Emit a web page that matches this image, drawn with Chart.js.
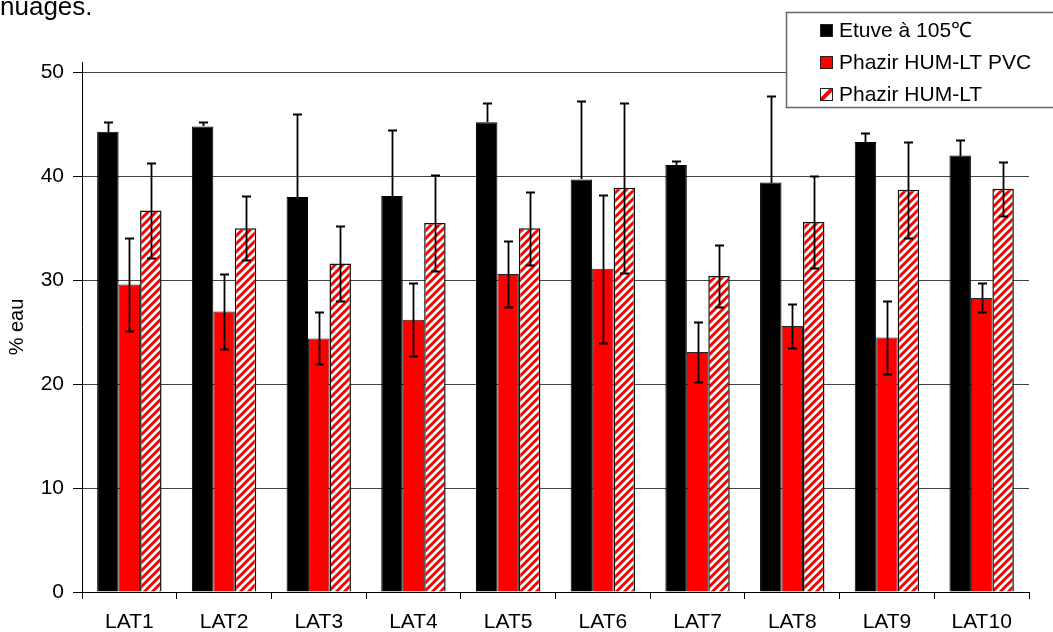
<!DOCTYPE html>
<html>
<head>
<meta charset="utf-8">
<script src="https://cdn.jsdelivr.net/npm/chart.js@4.4.1/dist/chart.umd.min.js"></script>
<style>
    html, body { margin: 0; padding: 0; background: #fff; }
    #wrap { position: relative; width: 1053px; height: 632px; overflow: hidden; }
    #above { position: absolute; left: 0; top: -9px; font: 26px "Liberation Sans", Arial, sans-serif; color: #000; }
</style>
</head>
<body>
<div id="wrap">
    <canvas id="chart" width="1053" height="632"></canvas>
    <div id="above">nuages.</div>
</div>
<script>
// Data
const categories = ['LAT1', 'LAT2', 'LAT3', 'LAT4', 'LAT5', 'LAT6', 'LAT7', 'LAT8', 'LAT9', 'LAT10'];
const seriesNames = ['Etuve à 105℃', 'Phazir HUM-LT PVC', 'Phazir HUM-LT'];

const etuve = [44.3, 44.8, 38.0, 38.1, 45.2, 39.7, 41.1, 39.4, 43.3, 42.0];
const etuveErr = [0.9, 0.4, 8.0, 6.4, 1.9, 7.5, 0.4, 8.3, 0.9, 1.5];

const phazirPvc = [29.6, 27.0, 24.4, 26.2, 30.6, 31.1, 23.1, 25.6, 24.5, 28.3];
const phazirPvcErr = [4.5, 3.6, 2.5, 3.5, 3.2, 7.1, 2.9, 2.1, 3.5, 1.4];

const phazir = [36.7, 35.0, 31.6, 35.5, 35.0, 38.9, 30.4, 35.6, 38.7, 38.8];
const phazirErr = [4.6, 3.1, 3.6, 4.6, 3.5, 8.2, 3.0, 4.4, 4.6, 2.6];

const yTicks = [0, 10, 20, 30, 40, 50];

const FONT = '"Liberation Sans", Arial, Helvetica, sans-serif';

// red / white diagonal hatch
function makeHatch() {
    const s = 8;
    const c = document.createElement('canvas');
    c.width = s; c.height = s;
    const g = c.getContext('2d');
    g.fillStyle = '#fff';
    g.fillRect(0, 0, s, s);
    g.strokeStyle = '#ff0000';
    g.lineWidth = 3;
    g.beginPath();
    g.moveTo(-1, 1); g.lineTo(1, -1);
    g.moveTo(0, s); g.lineTo(s, 0);
    g.moveTo(s - 1, s + 1); g.lineTo(s + 1, s - 1);
    g.stroke();
    return g.createPattern(c, 'repeat');
}

const ctx = document.getElementById('chart').getContext('2d');
const hatch = makeHatch();

// error bars drawn on top of the bars
const errorBars = {
    id: 'errorBars',
    afterDatasetsDraw(chart) {
        const c = chart.ctx;
        const y = chart.scales.y;
        c.save();
        c.strokeStyle = '#000';
        c.lineWidth = 1.8;
        chart.data.datasets.forEach((ds, i) => {
            const meta = chart.getDatasetMeta(i);
            meta.data.forEach((bar, j) => {
                const v = ds.data[j], e = ds.errors[j];
                const x = Math.round(bar.x) + 0.5;
                const yt = Math.round(y.getPixelForValue(v + e)) + 0.5;
                // lower whisker is hidden inside the black bars
                const yb = ds.upperOnly ? Math.round(bar.y) : Math.round(y.getPixelForValue(v - e)) + 0.5;
                c.beginPath();
                c.moveTo(x, yt); c.lineTo(x, yb);
                c.moveTo(x - 4.5, yt); c.lineTo(x + 4.5, yt);
                if (!ds.upperOnly) {
                    c.moveTo(x - 4.5, yb); c.lineTo(x + 4.5, yb);
                }
                c.stroke();
            });
        });
        c.restore();
    }
};

// boxed legend in the top right corner
const boxLegend = {
    id: 'boxLegend',
    afterDraw(chart) {
        const c = chart.ctx;
        c.save();
        c.fillStyle = '#fff';
        c.fillRect(786, 12, 280, 95);
        c.strokeStyle = '#666';
        c.lineWidth = 1.5;
        c.strokeRect(786.5, 12.5, 280, 95);
        c.font = '21px ' + FONT;
        c.textBaseline = 'middle';
        chart.data.datasets.forEach((ds, i) => {
            const cy = 30 + i * 32;
            const bx = 820, by = cy - 6, sz = 13;
            if (ds.hatched) {
                c.fillStyle = '#fff';
                c.fillRect(bx, by, sz, sz);
                c.save();
                c.beginPath();
                c.rect(bx, by, sz, sz);
                c.clip();
                c.strokeStyle = '#ff0000';
                c.lineWidth = 4;
                c.beginPath();
                c.moveTo(bx, by + sz); c.lineTo(bx + sz, by);
                c.stroke();
                c.restore();
            } else {
                c.fillStyle = ds.backgroundColor;
                c.fillRect(bx, by, sz, sz);
            }
            c.strokeStyle = '#222';
            c.lineWidth = 1;
            c.strokeRect(bx + 0.5, by + 0.5, sz - 1, sz - 1);
            c.fillStyle = '#000';
            c.fillText(ds.label, 839, cy + 1);
        });
        c.restore();
    }
};

new Chart(ctx, {
    type: 'bar',
    data: {
        labels: categories,
        datasets: [
            {
                label: seriesNames[0],
                data: etuve,
                errors: etuveErr,
                upperOnly: true,
                backgroundColor: '#000000',
                borderColor: '#000000',
                borderWidth: 1
            },
            {
                label: seriesNames[1],
                data: phazirPvc,
                errors: phazirPvcErr,
                backgroundColor: '#ff0000',
                borderColor: '#222',
                borderWidth: 1
            },
            {
                label: seriesNames[2],
                data: phazir,
                errors: phazirErr,
                hatched: true,
                backgroundColor: hatch,
                borderColor: '#111',
                borderWidth: 1.5
            }
        ]
    },
    options: {
        responsive: false,
        animation: false,
        devicePixelRatio: 1,
        layout: {
            padding: { top: 62, right: 24, left: 0, bottom: 0 }
        },
        datasets: {
            bar: {
                categoryPercentage: 0.68,
                barPercentage: 1.0
            }
        },
        plugins: {
            legend: { display: false },
            tooltip: { enabled: false }
        },
        scales: {
            x: {
                afterFit(scale) { scale.height = 40; },
                grid: {
                    offset: true,
                    drawOnChartArea: false,
                    drawTicks: true,
                    tickLength: 7,
                    color: '#000'
                },
                border: { color: '#000', width: 1 },
                ticks: {
                    color: '#000',
                    padding: 11,
                    font: { family: FONT, size: 21 }
                }
            },
            y: {
                min: 0,
                max: 51,
                afterFit(scale) { scale.width = 82; },
                afterBuildTicks(scale) {
                    scale.ticks = yTicks.map(v => ({ value: v }));
                },
                grid: {
                    color: '#444',
                    tickColor: '#000',
                    tickLength: 9,
                    lineWidth: 1
                },
                border: { color: '#000', width: 1 },
                ticks: {
                    color: '#000',
                    padding: 9,
                    font: { family: FONT, size: 21 }
                },
                title: {
                    display: true,
                    text: '% eau',
                    color: '#000',
                    padding: { top: 5, bottom: 0 },
                    font: { family: FONT, size: 20 }
                }
            }
        }
    },
    plugins: [errorBars, boxLegend]
});
</script>
</body>
</html>
